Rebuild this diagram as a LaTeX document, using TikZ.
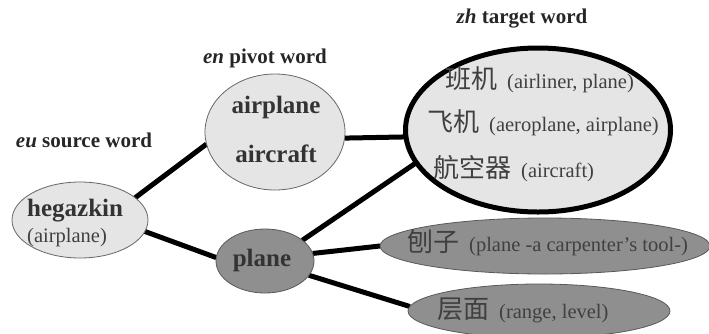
\documentclass[tikz,border=0pt]{standalone}
\usepackage{fontspec}
\setmainfont{Liberation Serif}
\newfontfamily\cjk{Noto Sans CJK SC}
\usetikzlibrary{shapes.geometric,backgrounds}
\tikzset{
  lite/.style={ellipse, draw=black!60, line width=0.8pt, fill=black!10, inner sep=0pt, outer sep=0pt},
  dark/.style={ellipse, draw=black!65, line width=0.8pt, fill=black!44, inner sep=0pt, outer sep=0pt},
  big/.style={ellipse, draw=black, line width=5pt, fill=black!10, inner sep=0pt, outer sep=0pt},
  link/.style={line width=5pt},
  bw/.style={font=\fontsize{25}{29}\selectfont\bfseries, text=black!80, inner sep=0pt},
  pw/.style={font=\fontsize{20.5}{24}\selectfont, text=black!75, inner sep=0pt},
  ttl/.style={font=\fontsize{21}{25}\selectfont\bfseries, text=black!85, inner sep=0pt},
}
\newcommand{\zhw}[1]{{\cjk\fontsize{26}{30}\selectfont #1}\hspace{10pt}}
\begin{document}
\begin{tikzpicture}[x=1pt,y=-1pt]
\useasboundingbox (0,0) rectangle (709,333);
% ellipses
\node[lite, minimum width=136pt, minimum height=76pt] (h) at (80,220) {};
\node[lite, minimum width=140pt, minimum height=116pt] (piv) at (275,132) {};
\node[big, minimum width=265pt, minimum height=164pt] (tgt) at (538,130) {};
\node[dark, minimum width=98pt, minimum height=64pt] (pl) at (265,261) {};
\node[dark, minimum width=330pt, minimum height=56pt] (pz) at (545,246) {};
\node[dark, minimum width=262pt, minimum height=54pt] (cm) at (539,311) {};
% links
\begin{scope}[on background layer]
\draw[link] (h.22) -- (piv.190);
\draw[link] (h.-10) -- (pl.176);
\draw[link] (piv.-5) -- (tgt.183);
\draw[link] (pl.29) -- (tgt.195.5);
\draw[link] (pl.9.5) -- (pz.180);
\draw[link] (pl.-18) -- (cm.178);
\end{scope}
% titles
\node[ttl] (t1) at (84,140) {\textit{eu} source word};
\node[ttl] (t2) at (265,58) {\textit{en} pivot word};
\node[ttl] (t3) at (522,19) {\textit{zh} target word};
% texts
\node[bw, anchor=west] (hw) at (27,211) {hegazkin};
\node[pw, anchor=west] (hg) at (27,238) {(airplane)};
\node[bw] (pa) at (276,107) {airplane};
\node[bw] (pb) at (276,154) {aircraft};
\node[bw] (pp) at (262,260) {plane};
\node[pw, anchor=west] (z1) at (445,80) {\zhw{班机}(airliner, plane)};
\node[pw, anchor=west] (z2) at (427,123) {\zhw{飞机}(aeroplane, airplane)};
\node[pw, anchor=west] (z3) at (433,169) {\zhw{航空器}(aircraft)};
\node[pw, anchor=west] (z4) at (407,243) {\zhw{刨子}(plane -a carpenter{\char"0027}s tool-)};
\node[pw, anchor=west] (z5) at (437,310) {\zhw{层面}(range, level)};
\end{tikzpicture}
\end{document}
